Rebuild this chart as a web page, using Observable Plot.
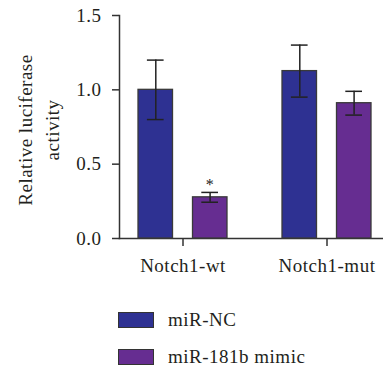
<!DOCTYPE html>
<html>
<head>
<meta charset="utf-8">
<script src="https://cdn.jsdelivr.net/npm/d3@7"></script>
<script src="https://cdn.jsdelivr.net/npm/@observablehq/plot@0.6"></script>
<style>
  html, body { margin: 0; padding: 0; background: #fff; }
  body { width: 383px; height: 370px; overflow: hidden; font-family: "Liberation Serif", serif; color: #231f20; }
  #legend { position: relative; }
  .row { display: flex; align-items: center; height: 16px; margin-left: 118px; margin-bottom: 21px; font-size: 19px; letter-spacing: 0.5px; }
  .sw { width: 34px; height: 14px; border: 1.2px solid #333; margin-right: 14px; box-sizing: content-box; }
</style>
</head>
<body>
<div id="chart"></div>
<div id="legend"></div>
<script>
const groups = ["Notch1-wt", "Notch1-mut"];
const series = ["miR-NC", "miR-181b mimic"];
const meanNC = [1.0, 1.126];
const errNC = [0.20, 0.175];
const meanMimic = [0.277, 0.91];
const errMimic = [0.033, 0.08];
const stars = ["*", ""];
const yTicks = [0, 0.5, 1.0, 1.5];
const colors = ["#2e3192", "#662d91"];

const rows = [];
groups.forEach((g, i) => {
  rows.push({group: g, series: series[0], mean: meanNC[i], lo: meanNC[i] - errNC[i], hi: meanNC[i] + errNC[i], star: ""});
  rows.push({group: g, series: series[1], mean: meanMimic[i], lo: meanMimic[i] - errMimic[i], hi: meanMimic[i] + errMimic[i], star: stars[i]});
});
const nc = rows.filter(d => d.series === series[0]);
const mm = rows.filter(d => d.series === series[1]);

const chart = Plot.plot({
  width: 383,
  height: 290,
  marginLeft: 119,
  marginRight: 0,
  marginTop: 15,
  marginBottom: 52,
  style: {fontFamily: "Liberation Serif, serif", fontSize: "19px", color: "#231f20", background: "#fff", letterSpacing: "0.5px"},
  x: {domain: groups, paddingInner: 0.383, paddingOuter: 0.106, align: 0.61, label: null, tickSize: 8, tickPadding: 12, line: true},
  y: {domain: [0, 1.5], ticks: yTicks, tickFormat: d3.format(".1f"), label: null, tickSize: 7, tickPadding: 11, line: true},
  color: {domain: series, range: colors},
  marks: [
    Plot.barY(nc, {x: "group", y: "mean", fill: "series", stroke: "#3a3a3a", strokeWidth: 1.3, insetRight: 54.5}),
    Plot.barY(mm, {x: "group", y: "mean", fill: "series", stroke: "#3a3a3a", strokeWidth: 1.3, insetLeft: 54.5}),
    Plot.ruleX(nc, {x: "group", y1: "lo", y2: "hi", dx: -27.2, stroke: "#222", strokeWidth: 1.5}),
    Plot.ruleX(mm, {x: "group", y1: "lo", y2: "hi", dx: 27.1, stroke: "#222", strokeWidth: 1.5}),
    Plot.tickY(nc, {x: "group", y: "lo", insetLeft: 8.9, insetRight: 63.4, stroke: "#222", strokeWidth: 1.5}),
    Plot.tickY(nc, {x: "group", y: "hi", insetLeft: 8.9, insetRight: 63.4, stroke: "#222", strokeWidth: 1.5}),
    Plot.tickY(mm, {x: "group", y: "lo", insetLeft: 63.3, insetRight: 9, stroke: "#222", strokeWidth: 1.5}),
    Plot.tickY(mm, {x: "group", y: "hi", insetLeft: 63.3, insetRight: 9, stroke: "#222", strokeWidth: 1.5}),
    Plot.text(mm, {x: "group", y: "hi", text: "star", dx: 27.1, dy: -2, lineAnchor: "bottom", fontSize: 16, fill: "#222"}),
    Plot.text(["Relative luciferase\nactivity"], {frameAnchor: "left", rotate: -90, dx: -83, dy: 3, lineHeight: 1.42, lineAnchor: "middle", textAnchor: "middle", fontSize: 19, fill: "#231f20"})
  ]
});
chart.querySelectorAll("[aria-label='x-axis tick'], [aria-label='y-axis tick'], [aria-label='x-axis line'], [aria-label='y-axis line'], [aria-label='frame']").forEach(g => { g.setAttribute("stroke", "#333"); g.setAttribute("stroke-width", "1.5"); });
document.getElementById("chart").appendChild(chart);

const legend = document.getElementById("legend");
legend.style.paddingTop = "22px";
series.forEach((s, i) => {
  const row = document.createElement("div");
  row.className = "row";
  const sw = document.createElement("span");
  sw.className = "sw";
  sw.style.background = colors[i];
  const t = document.createElement("span");
  t.textContent = s;
  row.appendChild(sw);
  row.appendChild(t);
  legend.appendChild(row);
});
</script>
</body>
</html>
